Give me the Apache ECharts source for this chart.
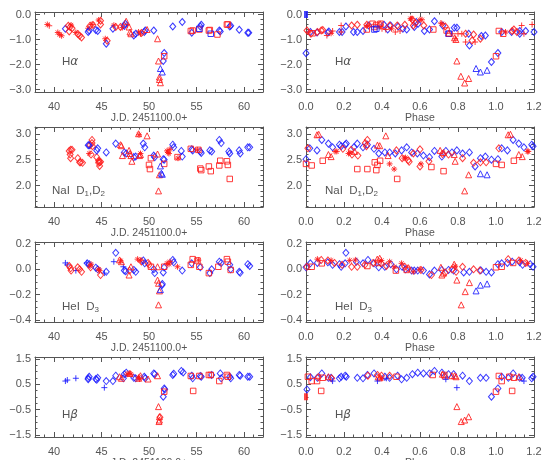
<!DOCTYPE html>
<html>
<head>
<meta charset="utf-8">
<script src="https://cdn.jsdelivr.net/npm/echarts@6/dist/echarts.min.js"></script>
<style>
html, body { margin: 0; padding: 0; background: #fff; }
#chart { width: 545px; height: 460px; }
</style>
</head>
<body>
<div id="chart"></div>
<script>
// codes: r/b = red/blue, d diamond, p plus, s asterisk, t triangle, q square, f filled
const haJd = [
  [39.3,-0.40,'rs'],[39.5,-0.45,'rp'],[40.4,-0.72,'rs'],[40.6,-0.80,'rs'],[40.8,-0.85,'rs'],
  [41.2,-0.57,'bd'],[41.5,-0.45,'rd'],[41.7,-0.50,'rd'],[41.9,-0.55,'rd'],[41.8,-0.42,'rs'],[41.6,-0.68,'rd'],
  [42.3,-0.72,'rs'],[42.5,-0.78,'rd'],[42.7,-0.85,'rd'],[42.9,-0.92,'rd'],
  [43.6,-0.70,'bd'],[43.7,-0.64,'bd'],[43.6,-0.55,'rs'],[43.8,-0.45,'rd'],[44.0,-0.40,'rs'],[44.1,-0.42,'rd'],
  [44.4,-0.62,'bd'],[44.6,-0.66,'bd'],[44.7,-0.22,'rs'],[44.9,-0.25,'rd'],[44.9,-0.40,'rd'],
  [45.4,-0.97,'rs'],[45.5,-1.17,'bd'],[45.6,-1.05,'rd'],
  [46.2,-0.57,'bd'],[46.3,-0.43,'rs'],[46.5,-0.50,'rd'],
  [47.0,-0.50,'rd'],[47.2,-0.52,'rs'],[47.4,-0.45,'bd'],[47.5,-0.37,'bd'],[47.6,-0.27,'rt'],[47.7,-0.42,'rp'],
  [47.9,-0.50,'rt'],[48.0,-0.70,'rt'],[48.1,-0.77,'rt'],
  [48.4,-0.84,'bd'],[48.6,-0.77,'bd'],[48.9,-0.70,'rs'],[49.1,-0.77,'rs'],[49.2,-0.74,'rd'],
  [49.5,-0.70,'bd'],[49.6,-0.64,'bd'],[49.8,-0.60,'rt'],[50.5,-0.64,'bd'],
  [50.9,-0.97,'rt'],[51.0,-1.86,'rt'],[51.1,-2.50,'rt'],[51.1,-2.60,'rt'],[51.2,-2.73,'rt'],
  [51.2,-2.16,'bt'],[51.4,-2.30,'bt'],[51.5,-1.86,'bd'],[51.6,-1.54,'bd'],[51.6,-1.67,'rq'],
  [52.5,-0.48,'bd'],[53.5,-0.30,'bd'],
  [54.4,-0.66,'rq'],[54.6,-0.64,'rq'],[54.5,-0.73,'bd'],
  [55.3,-0.60,'rq'],[55.3,-0.57,'bq'],[55.4,-0.48,'bd'],[55.5,-0.41,'bd'],
  [56.3,-0.64,'rq'],[56.4,-0.62,'rq'],[56.5,-0.77,'bq'],[57.2,-0.80,'rq'],[57.4,-0.64,'bd'],[57.5,-0.68,'bd'],
  [58.2,-0.40,'rq'],[58.3,-0.40,'rq'],[58.5,-0.48,'bd'],[58.6,-0.45,'bd'],
  [59.5,-0.61,'bd'],[60.4,-0.73,'bd'],[60.5,-0.73,'bd']
];
const haPh = [
  [0.0,0.0,'bf'],
  [0.0,-1.55,'bd'],[0.005,-0.64,'rd'],[0.012,-0.70,'rp'],[0.023,-0.70,'bd'],[0.026,-0.77,'rd'],[0.035,-0.75,'rq'],
  [0.06,-0.70,'rd'],[0.058,-0.72,'bd'],[0.08,-0.64,'rd'],[0.088,-0.62,'rd'],
  [0.11,-0.84,'rp'],[0.115,-0.73,'bd'],[0.12,-0.68,'bd'],[0.132,-0.75,'rs'],[0.14,-0.66,'rp'],
  [0.176,-0.70,'bd'],[0.185,-0.44,'rp'],[0.185,-0.70,'rp'],[0.19,-0.70,'bd'],
  [0.21,-0.48,'bd'],[0.24,-0.44,'rd'],[0.25,-0.70,'bd'],[0.27,-0.41,'rd'],[0.27,-0.70,'bd'],
  [0.30,-0.66,'bd'],[0.32,-0.60,'rq'],[0.32,-0.41,'rd'],[0.323,-0.44,'rs'],[0.33,-0.44,'bd'],
  [0.35,-0.37,'rq'],[0.36,-0.50,'rq'],[0.37,-0.42,'rq'],[0.36,-0.60,'bq'],[0.37,-0.57,'bq'],
  [0.39,-0.41,'rd'],[0.39,-0.48,'rs'],[0.392,-0.37,'rq'],[0.41,-0.41,'bd'],
  [0.40,-0.57,'rp'],[0.42,-0.60,'rp'],[0.43,-0.60,'bd'],[0.44,-0.44,'rd'],[0.445,-0.44,'bd'],[0.45,-0.57,'rs'],
  [0.485,-0.48,'bd'],[0.48,-0.44,'rd'],[0.47,-0.70,'rp'],[0.495,-0.66,'rp'],
  [0.51,-0.57,'bd'],[0.53,-0.60,'bd'],[0.52,-0.41,'rd'],
  [0.55,-0.17,'rs'],[0.555,-0.17,'rs'],[0.56,-0.21,'rd'],[0.565,-0.44,'rd'],[0.57,-0.50,'bd'],[0.575,-0.35,'rd'],[0.58,-0.30,'bd'],[0.59,-0.37,'bd'],
  [0.60,-0.21,'rs'],[0.61,-0.21,'rs'],[0.62,-0.44,'rd'],[0.623,-0.66,'bd'],
  [0.65,-0.60,'bd'],[0.676,-0.27,'bd'],[0.67,-0.60,'rq'],
  [0.71,-0.34,'rp'],[0.715,-0.37,'rs'],[0.72,-0.44,'bd'],[0.733,-0.48,'rd'],
  [0.74,-0.64,'rq'],[0.75,-0.77,'bq'],[0.753,-0.77,'bq'],[0.752,-0.74,'rt'],
  [0.78,-0.53,'bd'],[0.794,-0.53,'bd'],[0.77,-0.77,'rp'],
  [0.782,-0.93,'rt'],[0.789,-1.00,'rt'],[0.785,-0.97,'rp'],[0.794,-1.86,'rt'],
  [0.80,-0.77,'rp'],[0.82,-0.77,'rp'],[0.84,-0.77,'rd'],[0.856,-0.77,'bd'],[0.882,-0.80,'rd'],
  [0.84,-1.10,'rp'],[0.86,-1.24,'bd'],[0.874,-1.04,'rd'],[0.89,-1.10,'rp'],
  [0.815,-2.47,'rt'],[0.835,-2.74,'rt'],[0.856,-2.56,'rt'],
  [0.895,-2.16,'bt'],[0.918,-2.30,'bt'],[0.953,-2.23,'bt'],[0.976,-1.90,'bd'],[1.01,-1.54,'bd'],[1.0,-1.67,'rq'],
  [0.918,-0.97,'rd'],[0.923,-0.86,'bd'],[0.944,-0.84,'bd'],
  [1.015,-0.66,'rq'],[1.038,-0.77,'rq'],[1.03,-0.70,'bd'],[1.05,-0.70,'rs'],
  [1.085,-0.66,'rd'],[1.094,-0.60,'rd'],[1.082,-0.70,'bd'],[1.11,-0.70,'rd'],[1.125,-0.66,'bd'],[1.125,-0.77,'bd'],
  [1.135,-0.44,'rp'],[1.147,-0.77,'rp'],[1.156,-0.66,'bd'],[1.19,-0.40,'rp'],[1.2,-0.70,'bd']
];
const naJd = [
  [41.6,2.67,'rd'],[41.75,2.69,'rd'],[41.9,2.69,'rd'],[41.7,2.60,'rd'],[41.75,2.53,'rd'],
  [42.5,2.53,'rd'],[42.7,2.45,'rd'],[42.8,2.45,'rd'],[43.0,2.44,'rd'],
  [43.6,2.78,'bd'],[43.7,2.78,'bd'],[43.8,2.78,'rd'],[43.7,2.62,'rs'],[43.9,2.60,'rd'],
  [44.0,2.88,'rd'],[44.0,2.82,'rd'],[44.05,2.76,'rd'],
  [44.6,2.72,'bd'],[44.5,2.68,'bd'],
  [44.5,2.55,'rd'],[44.7,2.48,'rd'],[44.7,2.44,'rd'],[44.8,2.45,'rd'],[44.8,2.38,'rd'],[44.9,2.46,'rd'],
  [45.5,2.64,'bd'],[46.5,2.81,'bd'],
  [47.0,2.79,'rt'],[47.1,2.77,'rt'],[47.2,2.58,'rt'],
  [47.4,2.64,'bd'],[47.6,2.62,'bd'],
  [47.9,2.68,'rt'],[48.0,2.62,'rt'],[48.1,2.58,'rt'],[48.2,2.47,'rt'],
  [48.4,2.55,'bd'],[48.6,2.56,'bd'],
  [48.9,3.00,'rt'],[48.95,2.98,'rs'],[49.1,2.60,'rt'],[49.0,2.58,'rt'],[49.1,2.62,'rs'],
  [49.4,2.81,'bd'],[49.55,2.74,'bd'],[49.8,2.96,'rt'],
  [50.0,2.40,'rq'],[50.1,2.32,'rq'],[50.2,2.53,'rq'],
  [50.5,2.58,'bd'],[50.6,2.55,'bd'],
  [50.9,2.61,'rt'],[51.0,1.90,'rt'],[51.1,2.21,'rt'],
  [51.2,2.38,'bt'],[51.3,2.24,'bt'],[51.4,2.22,'bt'],
  [51.5,2.51,'bd'],[51.6,2.50,'bd'],[51.6,2.42,'rq'],
  [51.9,2.67,'rs'],[52.0,2.64,'rs'],[52.2,2.70,'rs'],[52.1,2.62,'rs'],
  [52.5,2.79,'bd'],[52.6,2.74,'bd'],
  [53.0,2.55,'rq'],[53.05,2.53,'rs'],
  [53.4,2.67,'bd'],[53.5,2.56,'bd'],
  [54.4,2.71,'rq'],[54.5,2.70,'bd'],[54.6,2.68,'bd'],
  [55.1,2.69,'rs'],[55.2,2.69,'rq'],
  [55.4,2.33,'rq'],[55.5,2.30,'rq'],
  [55.4,2.66,'bd'],[55.5,2.63,'bd'],
  [56.3,2.37,'rq'],[56.5,2.28,'rq'],
  [56.4,2.68,'bd'],[56.6,2.66,'bd'],
  [57.4,2.39,'rq'],[57.5,2.48,'rq'],
  [57.4,2.88,'bd'],[57.6,2.82,'bd'],
  [58.2,2.47,'rq'],[58.3,2.40,'rq'],[58.5,2.13,'rq'],
  [58.4,2.66,'bd'],[58.5,2.62,'bd'],
  [59.5,2.68,'bd'],[59.6,2.62,'bd'],
  [60.4,2.74,'bd'],[60.6,2.74,'bd']
];
const naPh = [
  [0.0,2.51,'bd'],[0.0,2.42,'rq'],[0.01,2.72,'rd'],[0.02,2.72,'bd'],[0.03,2.39,'rq'],
  [0.058,2.98,'rt'],[0.067,2.99,'rt'],[0.058,2.68,'bd'],
  [0.083,2.88,'bd'],[0.088,2.48,'rq'],
  [0.118,2.81,'bd'],[0.118,2.60,'rt'],[0.132,2.56,'rt'],
  [0.14,2.74,'bd'],[0.153,2.66,'rs'],[0.162,2.66,'rs'],
  [0.176,2.79,'bd'],[0.185,2.76,'bd'],[0.194,2.71,'rd'],
  [0.206,2.79,'bd'],[0.212,2.81,'bd'],
  [0.224,2.62,'rs'],[0.232,2.63,'rs'],[0.238,2.69,'rd'],[0.242,2.60,'rd'],
  [0.252,2.74,'bd'],[0.256,2.66,'rt'],
  [0.27,2.81,'bd'],[0.273,2.58,'rd'],[0.27,2.32,'rq'],
  [0.30,2.74,'bd'],[0.312,2.82,'rd'],[0.323,2.88,'rd'],[0.318,2.76,'rd'],[0.323,2.79,'bd'],[0.323,2.32,'rq'],
  [0.358,2.71,'bd'],[0.362,2.45,'rq'],[0.37,2.30,'rq'],[0.376,2.40,'rq'],[0.39,2.48,'rq'],
  [0.376,2.78,'rt'],[0.388,2.77,'rt'],[0.383,2.62,'bd'],
  [0.42,2.96,'rt'],
  [0.415,2.64,'bd'],[0.44,2.64,'bd'],[0.432,2.58,'rt'],
  [0.44,2.42,'rs'],[0.464,2.32,'rs'],[0.48,2.13,'rq'],
  [0.47,2.62,'bd'],[0.476,2.68,'rd'],
  [0.503,2.68,'bd'],[0.506,2.53,'rd'],[0.517,2.53,'rs'],[0.524,2.54,'rs'],
  [0.53,2.74,'bd'],[0.538,2.49,'rd'],[0.543,2.46,'rd'],
  [0.556,2.64,'bd'],[0.565,2.62,'rd'],
  [0.586,2.62,'bd'],[0.60,2.70,'rd'],[0.60,2.37,'rd'],[0.605,2.42,'rs'],
  [0.618,2.58,'bd'],
  [0.65,2.55,'bd'],[0.647,2.47,'rd'],[0.66,2.36,'rq'],
  [0.676,2.67,'bd'],[0.706,2.68,'rt'],[0.715,2.56,'bd'],[0.724,2.28,'rq'],[0.724,2.64,'rt'],[0.718,2.61,'rd'],
  [0.736,2.67,'bd'],[0.75,2.60,'rd'],
  [0.768,2.64,'bd'],[0.78,2.60,'rt'],[0.794,2.68,'bd'],[0.785,2.47,'rt'],
  [0.824,2.62,'bd'],[0.824,2.53,'rd'],[0.835,1.90,'rt'],
  [0.86,2.64,'bd'],[0.856,2.21,'rt'],
  [0.882,2.44,'rd'],[0.89,2.37,'bd'],
  [0.918,2.53,'bd'],[0.918,2.45,'rd'],[0.918,2.23,'bt'],
  [0.944,2.56,'bd'],[0.948,2.45,'rd'],[0.953,2.21,'bt'],
  [0.976,2.50,'bd'],[1.0,2.42,'rq'],[1.01,2.51,'bd'],
  [1.015,2.72,'rd'],[1.03,2.72,'bd'],[1.03,2.40,'rq'],
  [1.064,2.98,'rt'],[1.076,2.99,'rt'],[1.06,2.68,'bd'],
  [1.09,2.88,'bd'],[1.094,2.48,'rq'],
  [1.12,2.81,'bd'],[1.12,2.60,'rt'],[1.138,2.56,'rt'],
  [1.147,2.74,'bd'],[1.165,2.66,'rs'],[1.17,2.66,'rs'],
  [1.188,2.79,'bd'],[1.195,2.76,'bd']
];
const heJd = [
  [41.2,0.050,'bp'],[41.4,0.035,'bp'],
  [41.6,0.026,'rd'],[41.75,0.008,'rd'],[41.8,-0.010,'rd'],
  [42.3,-0.010,'bp'],[42.5,0.016,'rd'],[42.7,0.000,'rd'],[42.9,-0.020,'rd'],
  [43.5,0.047,'bd'],[43.7,0.040,'bd'],[43.45,0.050,'bp'],
  [43.8,0.026,'rs'],[43.9,0.040,'rs'],[43.85,0.016,'rd'],
  [44.4,0.013,'bd'],[44.6,0.000,'bd'],[44.7,0.000,'rs'],[44.8,-0.010,'rs'],
  [44.9,-0.045,'rd'],[45.5,-0.020,'bd'],[45.3,-0.030,'bp'],
  [46.3,0.060,'bp'],[46.5,0.130,'bd'],
  [46.9,0.074,'rt'],[47.1,0.060,'rt'],[47.0,0.067,'rs'],
  [47.3,0.020,'bp'],[47.4,-0.010,'bd'],[47.55,-0.015,'bd'],
  [47.9,-0.045,'rt'],[48.1,0.020,'rt'],[47.95,-0.010,'rd'],
  [48.4,-0.005,'bd'],[48.6,-0.020,'bd'],
  [48.8,0.080,'rs'],[49.1,0.070,'rs'],[49.2,0.062,'rd'],
  [49.4,0.070,'bd'],[49.55,0.047,'bd'],
  [49.9,0.050,'rd'],[50.0,0.035,'rd'],[50.2,0.020,'rq'],
  [50.5,0.000,'bd'],[50.6,-0.030,'bd'],
  [50.9,0.020,'rt'],[50.9,-0.085,'rt'],[51.0,-0.110,'rt'],[51.1,-0.170,'rt'],[51.0,-0.280,'rt'],
  [51.2,-0.160,'bt'],[51.4,-0.115,'bd'],[51.35,-0.125,'bd'],
  [51.5,-0.025,'bd'],[51.6,0.020,'rq'],[51.6,0.015,'bd'],
  [51.9,0.047,'rs'],[52.1,0.040,'rs'],[52.2,0.060,'rs'],
  [52.5,0.074,'bd'],[52.6,0.055,'bd'],
  [53.0,0.020,'rs'],[53.5,-0.010,'bd'],
  [54.4,0.035,'rq'],[54.6,0.080,'rq'],[54.5,0.047,'bd'],
  [55.1,0.070,'rq'],[55.2,0.072,'rs'],[55.3,0.020,'rq'],[55.4,0.016,'bd'],
  [56.3,-0.030,'rq'],[56.4,-0.030,'bd'],[56.6,0.000,'bd'],
  [57.3,0.020,'rq'],[57.4,0.060,'bd'],[57.6,0.050,'bd'],
  [58.2,0.080,'rq'],[58.3,0.060,'rq'],[58.5,0.035,'bd'],[58.6,0.000,'bd'],[58.6,-0.005,'rq'],
  [59.5,-0.020,'bd'],[59.6,-0.028,'bd'],
  [60.4,0.040,'bd'],[60.6,0.026,'bd']
];
const hePh = [
  [0.0,0.016,'bd'],[0.005,0.020,'rd'],[0.03,0.020,'rq'],[0.023,0.047,'bd'],
  [0.06,0.080,'rs'],[0.08,0.074,'rd'],[0.083,0.047,'rq'],[0.06,0.050,'bd'],
  [0.115,0.070,'rd'],[0.115,0.055,'bd'],[0.132,0.070,'rs'],[0.14,0.035,'bd'],[0.15,0.050,'rd'],
  [0.176,0.040,'bd'],[0.185,0.020,'bd'],[0.19,0.035,'rd'],
  [0.21,0.130,'bd'],[0.206,0.047,'bd'],[0.23,0.070,'rs'],[0.24,0.020,'rd'],
  [0.26,0.074,'rs'],[0.265,0.060,'bd'],[0.27,0.020,'rd'],
  [0.30,0.047,'bd'],[0.31,0.035,'rd'],[0.326,0.074,'bd'],[0.323,0.026,'rq'],
  [0.353,0.050,'rd'],[0.358,0.047,'bd'],
  [0.375,0.080,'rt'],[0.388,0.087,'rt'],[0.38,0.050,'rq'],[0.395,0.047,'rd'],
  [0.383,0.016,'bd'],[0.397,0.070,'rs'],
  [0.415,0.020,'bd'],[0.423,0.026,'rd'],[0.44,0.060,'rs'],[0.446,0.040,'bd'],
  [0.464,0.020,'rs'],[0.473,-0.010,'rq'],[0.476,0.000,'bd'],
  [0.503,0.047,'rs'],[0.506,0.020,'bd'],[0.52,0.020,'rd'],[0.524,0.000,'bd'],[0.53,-0.005,'rq'],[0.538,0.008,'rd'],
  [0.556,-0.010,'bd'],[0.565,-0.020,'rs'],[0.57,-0.010,'bd'],
  [0.588,-0.010,'bd'],[0.60,0.000,'rs'],[0.605,-0.005,'rd'],[0.618,-0.010,'bd'],
  [0.65,-0.040,'bd'],[0.66,-0.045,'rd'],[0.676,-0.010,'bd'],
  [0.71,0.016,'rt'],[0.715,-0.045,'rt'],[0.715,-0.005,'bd'],[0.724,-0.030,'rt'],[0.733,-0.025,'rd'],
  [0.75,-0.005,'bd'],[0.768,0.000,'rd'],[0.777,-0.010,'bd'],
  [0.78,0.040,'rt'],[0.785,0.025,'rs'],[0.79,-0.020,'rd'],[0.794,-0.085,'rt'],
  [0.817,-0.280,'rt'],[0.838,-0.176,'rt'],[0.86,-0.105,'rt'],
  [0.824,0.020,'rd'],[0.83,-0.025,'bd'],[0.86,-0.020,'bd'],[0.882,0.000,'rd'],
  [0.895,-0.170,'bt'],[0.918,-0.125,'bt'],[0.953,-0.115,'bt'],
  [0.915,-0.010,'rd'],[0.92,-0.008,'bd'],[0.948,-0.020,'bd'],[0.976,-0.025,'bd'],
  [1.0,0.016,'rq'],[1.03,0.020,'rq'],[1.01,0.040,'bd'],[1.03,0.047,'bd'],
  [1.064,0.080,'rd'],[1.09,0.050,'rq'],[1.06,0.050,'bd'],[1.085,0.060,'bd'],
  [1.12,0.070,'rd'],[1.125,0.055,'bd'],[1.13,0.070,'rs'],[1.14,0.035,'bd'],[1.156,0.050,'rd'],[1.165,0.047,'rs'],[1.18,0.040,'bd'],[1.195,0.020,'bd']
];
const hbJd = [
  [41.2,0.63,'bp'],[41.4,0.67,'bp'],[42.3,0.74,'bp'],
  [43.6,0.74,'bd'],[43.7,0.80,'bd'],[43.6,0.70,'bd'],
  [44.4,0.71,'bd'],[44.6,0.76,'bd'],[44.5,0.68,'bd'],
  [45.3,0.37,'bp'],[45.5,0.63,'bd'],
  [46.2,0.63,'bd'],[46.5,0.84,'bd'],
  [46.9,0.80,'rt'],[47.1,0.74,'rt'],[47.3,0.74,'bd'],
  [47.4,0.90,'bd'],[47.6,0.96,'bd'],[47.7,0.90,'rs'],
  [47.9,0.93,'rs'],[48.1,0.90,'rs'],[48.0,0.93,'rt'],
  [48.4,0.76,'bd'],[48.6,0.74,'bd'],
  [48.9,0.78,'rs'],[48.9,0.74,'rt'],[49.1,0.84,'rt'],[49.0,0.71,'rs'],
  [49.5,0.80,'bd'],[49.6,0.74,'bd'],[49.9,0.71,'rt'],
  [50.5,0.93,'bd'],[50.6,0.90,'bd'],
  [50.9,0.84,'rt'],[51.0,-0.38,'rt'],[51.1,-0.78,'rt'],[51.1,-0.91,'rt'],[51.05,-0.97,'rt'],[51.15,-0.80,'rd'],
  [51.5,0.01,'bd'],[51.6,0.34,'bd'],[51.6,0.21,'rq'],[51.65,0.30,'bd'],
  [52.5,0.87,'bd'],[52.6,0.92,'bd'],
  [53.4,1.03,'bd'],[53.6,0.97,'bd'],
  [54.4,0.83,'rq'],[54.5,0.84,'bd'],[54.6,0.74,'bd'],[54.65,0.24,'rq'],
  [55.3,0.83,'rq'],[55.4,0.83,'bd'],[55.5,0.80,'bd'],
  [56.3,0.87,'rq'],[56.5,0.87,'rq'],[56.6,0.87,'bd'],
  [57.4,0.63,'rq'],[57.5,0.93,'bd'],[57.6,0.74,'bd'],
  [58.2,0.87,'rq'],[58.3,0.80,'rq'],[58.5,0.80,'bd'],[58.6,0.74,'bd'],
  [59.5,0.87,'bd'],[59.6,0.84,'bd'],
  [60.4,0.80,'bd'],[60.6,0.80,'bd']
];
const hbPh = [
  [0.0,0.01,'rf'],[0.005,0.30,'bd'],
  [0.01,0.80,'rq'],[0.023,0.78,'bd'],[0.03,0.63,'rq'],
  [0.06,0.76,'bd'],[0.058,0.63,'rq'],[0.065,0.78,'rd'],
  [0.083,0.93,'bd'],[0.088,0.76,'rq'],[0.08,0.24,'rq'],
  [0.118,0.80,'rt'],[0.118,0.76,'bd'],[0.132,0.76,'bd'],[0.14,0.63,'bp'],[0.135,0.74,'rd'],
  [0.176,0.74,'bd'],[0.185,0.80,'bd'],[0.206,0.84,'bd'],[0.212,0.80,'bd'],
  [0.27,0.76,'bd'],[0.30,0.74,'bd'],
  [0.323,0.87,'bd'],[0.326,0.84,'rd'],
  [0.358,0.93,'bd'],[0.376,0.87,'rd'],[0.376,0.63,'bp'],[0.38,0.80,'rt'],[0.388,0.76,'rt'],[0.397,0.84,'rd'],[0.397,0.74,'rs'],
  [0.415,0.80,'bd'],[0.423,0.74,'bp'],[0.44,0.76,'bd'],[0.44,0.84,'rd'],
  [0.476,0.80,'rq'],[0.482,0.84,'bd'],
  [0.503,0.70,'bd'],[0.53,0.76,'bd'],[0.56,0.90,'bd'],[0.588,0.96,'bd'],[0.618,0.93,'bd'],
  [0.65,0.93,'bd'],[0.667,0.87,'rq'],[0.676,1.03,'bd'],
  [0.715,0.96,'bd'],[0.718,0.90,'rt'],[0.732,0.83,'rt'],[0.736,0.70,'bp'],[0.728,0.87,'rq'],
  [0.75,0.90,'bd'],[0.768,0.84,'rt'],[0.782,0.84,'rt'],[0.79,0.80,'rt'],[0.777,0.90,'bd'],
  [0.794,-0.38,'rt'],[0.794,0.37,'bp'],[0.817,-0.97,'rt'],[0.835,-0.91,'rt'],[0.856,-0.78,'rt'],
  [0.824,0.84,'bd'],[0.86,0.63,'bd'],
  [0.918,0.76,'bd'],[0.948,0.76,'bd'],
  [0.976,0.01,'bd'],[1.01,0.34,'bd'],[1.0,0.21,'rq'],
  [1.015,0.83,'rq'],[1.03,0.80,'bd'],[1.03,0.63,'rq'],
  [1.07,0.80,'rq'],[1.065,0.76,'bd'],[1.09,0.93,'bd'],[1.094,0.76,'rq'],[1.085,0.24,'rq'],
  [1.12,0.80,'rt'],[1.125,0.76,'bd'],[1.138,0.76,'bd'],[1.147,0.63,'bp'],[1.188,0.74,'bd'],[1.195,0.80,'bd']
];

// tick labels
const jdTicks = [40, 45, 50, 55, 60];
const phaseTicks = [0, 0.2, 0.4, 0.6, 0.8, 1.0, 1.2];
const haTicks = [-3, -2, -1, 0];
const naTicks = [2.0, 2.5, 3.0];
const heTicks = [-0.4, -0.2, 0, 0.2];
const hbTicks = [-1.5, -0.5, 0.5, 1.5];

const TXT = '#555';
const FONT = 'Liberation Sans, Arial, sans-serif';

const cols = [
  {left: 35, min: 38, max: 62, ticks: jdTicks, minor: 1, dec: 0, name: 'J.D. 2451100.0+'},
  {left: 306, min: 0, max: 1.2, ticks: phaseTicks, minor: 0.05, dec: 1, name: 'Phase'}
];
const rows = [
  {top: 12, min: -3.1, max: 0.1, ticks: haTicks, minor: 0.2, dec: 1, data: [haJd, haPh],
   label: '{a|H}{g|α}', lx: [62, 335]},
  {top: 127, min: 1.59, max: 3.13, ticks: naTicks, minor: 0.1, dec: 1, data: [naJd, naPh],
   label: '{a|NaI  D}{s|1}{a|,D}{s|2}', lx: [52, 325]},
  {top: 242, min: -0.415, max: 0.215, ticks: heTicks, minor: 0.05, dec: 1, data: [heJd, hePh],
   label: '{a|HeI  D}{s|3}', lx: [62, 335]},
  {top: 357, min: -1.58, max: 1.58, ticks: hbTicks, minor: 0.25, dec: 1, data: [hbJd, hbPh],
   label: '{a|H}{g|β}', lx: [62, 335]}
];
const labelY = [62, 191, 307, 415];

const markers = {
  d: {symbol: 'diamond', size: [6, 7]},
  p: {symbol: 'path://M5,0L5,10M0,5L10,5', size: 6},
  s: {symbol: 'path://M5,0L5,10M0,5L10,5M1.5,1.5L8.5,8.5M8.5,1.5L1.5,8.5', size: 6},
  t: {symbol: 'triangle', size: 6},
  q: {symbol: 'rect', size: 5.5},
  f: {symbol: 'rect', size: [4, 7], filled: true}
};
const colorOf = {r: '#ff1a1a', b: '#1a1aff'};

function minorTicks(min, max, step) {
  const out = [];
  const k0 = Math.ceil(min / step - 1e-6), k1 = Math.floor(max / step + 1e-6);
  for (let k = k0; k <= k1; k++) out.push(+(k * step).toFixed(4));
  return out;
}
function fmt(dec) {
  return v => (v < -1e-9 ? '\u2212' : '') + Math.abs(v).toFixed(dec);
}

const grids = [], xAxes = [], yAxes = [], series = [], graphics = [];
const lineStyle = {color: '#555', width: 1};

rows.forEach((row, ri) => {
  cols.forEach((col, ci) => {
    const gi = grids.length;
    grids.push({left: col.left, top: row.top, width: 228, height: 80,
      containLabel: false, outerBoundsMode: 'none'});
    const xMinor = minorTicks(col.min, col.max, col.minor);
    const yMinor = minorTicks(row.min, row.max, row.minor);
    const xb = {gridIndex: gi, type: 'value', min: col.min, max: col.max, splitLine: {show: false}};
    const yb = {gridIndex: gi, type: 'value', min: row.min, max: row.max, splitLine: {show: false}};
    xAxes.push(
      Object.assign({}, xb, {
        position: 'bottom',
        axisLine: {show: true, onZero: false, lineStyle},
        axisTick: {show: true, inside: true, length: 5, customValues: col.ticks, lineStyle},
        axisLabel: {show: true, customValues: col.ticks, formatter: fmt(col.dec), margin: 9,
          fontSize: 11, color: TXT, fontFamily: FONT},
        name: col.name, nameLocation: 'middle', nameGap: 21,
        nameTextStyle: {fontSize: 10.5, color: TXT, fontFamily: FONT}
      }),
      Object.assign({}, xb, {
        position: 'top',
        axisLine: {show: true, onZero: false, lineStyle},
        axisTick: {show: true, inside: true, length: 5, customValues: col.ticks, lineStyle},
        axisLabel: {show: false}
      }),
      Object.assign({}, xb, {
        position: 'bottom',
        axisLine: {show: false, onZero: false},
        axisTick: {show: true, inside: true, length: 2.5, customValues: xMinor, lineStyle},
        axisLabel: {show: false}
      }),
      Object.assign({}, xb, {
        position: 'top',
        axisLine: {show: false, onZero: false},
        axisTick: {show: true, inside: true, length: 2.5, customValues: xMinor, lineStyle},
        axisLabel: {show: false}
      })
    );
    yAxes.push(
      Object.assign({}, yb, {
        position: 'left',
        axisLine: {show: true, onZero: false, lineStyle},
        axisTick: {show: true, inside: true, length: 5, customValues: row.ticks, lineStyle},
        axisLabel: {show: true, customValues: row.ticks, formatter: fmt(row.dec), margin: 4,
          fontSize: 11, color: TXT, fontFamily: FONT}
      }),
      Object.assign({}, yb, {
        position: 'right',
        axisLine: {show: true, onZero: false, lineStyle},
        axisTick: {show: true, inside: true, length: 5, customValues: row.ticks, lineStyle},
        axisLabel: {show: false}
      }),
      Object.assign({}, yb, {
        position: 'left',
        axisLine: {show: false, onZero: false},
        axisTick: {show: true, inside: true, length: 2.5, customValues: yMinor, lineStyle},
        axisLabel: {show: false}
      }),
      Object.assign({}, yb, {
        position: 'right',
        axisLine: {show: false, onZero: false},
        axisTick: {show: true, inside: true, length: 2.5, customValues: yMinor, lineStyle},
        axisLabel: {show: false}
      })
    );

    const pts = row.data[ci];
    const codes = [];
    pts.forEach(p => { if (codes.indexOf(p[2]) < 0) codes.push(p[2]); });
    codes.forEach(code => {
      const m = markers[code[1]];
      const c = colorOf[code[0]];
      series.push({
        type: 'scatter',
        xAxisIndex: gi * 4,
        yAxisIndex: gi * 4,
        symbol: m.symbol,
        symbolSize: m.size,
        clip: true,
        silent: true,
        itemStyle: m.filled
          ? {color: c}
          : {color: 'rgba(0,0,0,0)', borderColor: c, borderWidth: 1, opacity: 0.85},
        data: pts.filter(p => p[2] === code).map(p => [p[0], p[1]])
      });
    });

    graphics.push({
      type: 'text',
      x: row.lx[ci],
      y: labelY[ri],
      silent: true,
      style: {
        text: row.label,
        verticalAlign: 'middle',
        rich: {
          a: {fontSize: 11.5, fill: TXT, fontFamily: FONT},
          g: {fontSize: 12, fill: TXT, fontFamily: 'DejaVu Sans', fontStyle: 'italic'},
          s: {fontSize: 8, fill: TXT, fontFamily: FONT, padding: [6, 0, 0, 0]}
        }
      }
    });
  });
});

const chart = echarts.init(document.getElementById('chart'));
chart.setOption({
  animation: false,
  backgroundColor: '#fff',
  grid: grids,
  xAxis: xAxes,
  yAxis: yAxes,
  series: series,
  graphic: graphics
});
</script>
</body>
</html>
